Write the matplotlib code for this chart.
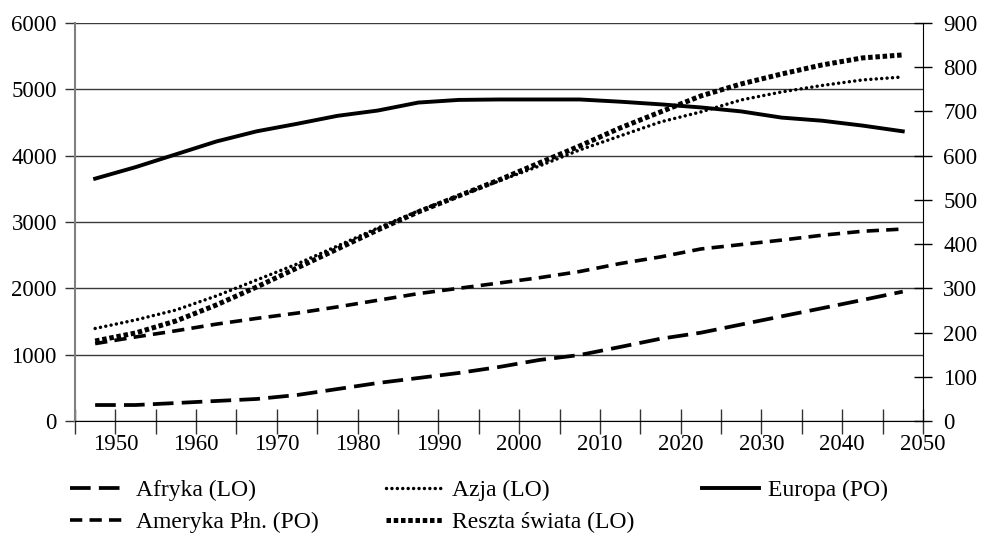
import numpy as np
import matplotlib
matplotlib.use("Agg")
import matplotlib.pyplot as plt

# Data (5-year periods, plotted mid-period)
years = [1947.5 + 5 * i for i in range(21)]

# left axis (LO)
afryka = [241, 241, 271, 302, 332, 392, 482, 573, 648, 724, 814,
          920, 995, 1116, 1240, 1331, 1455, 1578, 1700, 1824, 1950]
azja = [1395, 1523, 1673, 1885, 2126, 2367, 2638, 2910, 3166, 3392, 3618,
        3844, 4086, 4297, 4508, 4659, 4840, 4960, 5058, 5141, 5186]
reszta = [1206, 1327, 1508, 1749, 2020, 2307, 2593, 2880, 3151, 3392, 3633,
          3890, 4146, 4417, 4659, 4900, 5081, 5231, 5367, 5473, 5518]

# right axis (PO)
europa = [548, 574, 603, 632, 655, 672, 690, 702, 720, 726, 727,
          727, 727, 722, 716, 709, 700, 686, 679, 668, 655]
ameryka = [175, 190, 204, 219, 232, 244, 258, 273, 288, 300, 312,
           324, 338, 356, 371, 389, 399, 409, 420, 429, 434]

plt.rcParams['font.family'] = ['Liberation Serif', 'DejaVu Serif']
FS = 16.5
LEG_FS = 17

fig = plt.figure(figsize=(9.85, 5.34), dpi=100)
ax = fig.add_axes([0.0761, 0.2116, 0.937 - 0.0761, 0.957 - 0.2116])
ax2 = ax.twinx()

l_afr, = ax.plot(years, afryka, color='black', lw=2.7, label='Afryka (LO)')
l_afr.set_dashes((5.5, 2.2))
l_azj, = ax.plot(years, azja, color='black', lw=2.5, label='Azja (LO)',
                 dash_capstyle='round')
l_azj.set_dashes((0.01, 1.55))
l_res, = ax.plot(years, reszta, color='black', lw=3.6, label='Reszta świata (LO)')
l_res.set_dashes((0.9, 0.55))

l_eur, = ax2.plot(years, europa, color='black', lw=2.8, label='Europa (PO)')
l_ame, = ax2.plot(years, ameryka, color='black', lw=2.6, label='Ameryka Płn. (PO)')
l_ame.set_dashes((3.4, 2.0))

ax.set_xlim(1945, 2050)
ax.set_ylim(0, 6000)
ax2.set_ylim(0, 900)

ax.set_yticks(np.arange(0, 6001, 1000))
ax2.set_yticks(np.arange(0, 901, 100))
ax.set_xticks(np.arange(1945, 2051, 5))
ax.set_xticklabels(['' if y % 10 else str(y) for y in range(1945, 2051, 5)])

ax.grid(axis='y', color='#3a3a3a', lw=1.0)
ax.set_axisbelow(True)

for a in (ax, ax2):
    a.spines['top'].set_visible(False)
ax.spines['left'].set_color('#808080')
ax.spines['left'].set_linewidth(1.5)
ax2.spines['left'].set_visible(False)
ax.spines['right'].set_visible(False)
ax2.spines['right'].set_color('black')
ax2.spines['bottom'].set_visible(False)

ax.tick_params(axis='y', direction='out', length=7, width=1, color='#333333',
               labelsize=FS, pad=6)
ax.tick_params(axis='x', direction='inout', length=18, width=1, color='#333333',
               labelsize=FS, pad=0)
ax2.tick_params(axis='y', direction='inout', length=13, width=1, color='black',
                labelsize=FS, pad=8)

handles = [l_afr, l_ame, l_azj, l_res, l_eur]
fig.legend(handles=handles, labels=[h.get_label() for h in handles],
           loc='lower left', bbox_to_anchor=(0.071, 0.002), ncol=3,
           frameon=False, fontsize=LEG_FS, handlelength=2.4, handletextpad=0.38,
           columnspacing=2.88, labelspacing=0.42, borderpad=0, borderaxespad=0)

fig.savefig('out.png', dpi=100)
